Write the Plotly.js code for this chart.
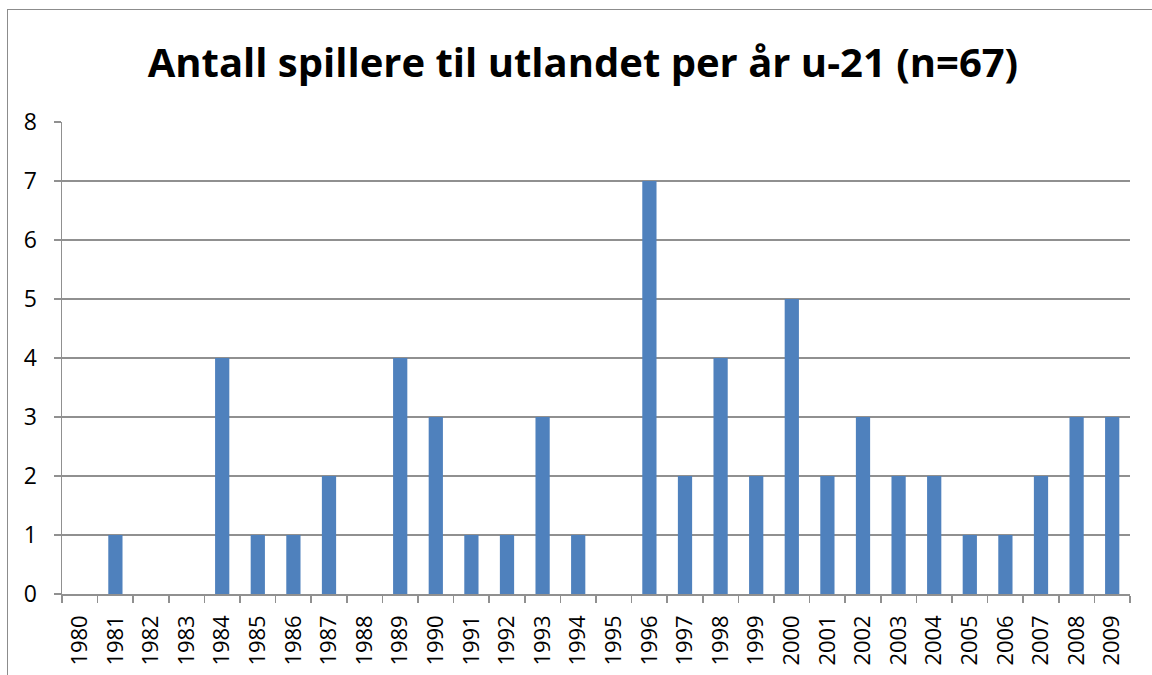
<!DOCTYPE html>
<html>
<head>
<meta charset="utf-8">
<script src="https://cdn.plot.ly/plotly-3.0.1.min.js"></script>
<style>
  html, body { margin: 0; padding: 0; background: #fff; }
  #wrap { position: relative; width: 1152px; height: 675px; overflow: hidden; }
  #frame { position: absolute; left: 7px; top: 9px; width: 1200px; height: 700px;
           border-left: 1px solid #8c8c8c; border-top: 1px solid #8c8c8c; pointer-events: none; }
  #chart { position: absolute; left: 0; top: 0; width: 1152px; height: 675px; }
</style>
</head>
<body>
<div id="wrap">
  <div id="chart"></div>
  <div id="frame"></div>
</div>
<script>
const years = ["1980","1981","1982","1983","1984","1985","1986","1987","1988","1989",
               "1990","1991","1992","1993","1994","1995","1996","1997","1998","1999",
               "2000","2001","2002","2003","2004","2005","2006","2007","2008","2009"];
const players = [0,1,0,0,4,1,1,2,0,4,
                 3,1,1,3,1,0,7,2,4,2,
                 5,2,3,2,2,1,1,2,3,3];
const titleText = "Antall spillere til utlandet per år u-21 (n=67)";
const yTicks = [0,1,2,3,4,5,6,7,8];

const font = "Open Sans, Liberation Sans, sans-serif";

Plotly.newPlot("chart", [{
  type: "bar",
  x: years,
  y: players,
  marker: { color: "#4F81BD" },
  hoverinfo: "x+y"
}], {
  width: 1152, height: 675,
  margin: { l: 62, r: 22, t: 122, b: 81 },
  paper_bgcolor: "#ffffff",
  plot_bgcolor: "#ffffff",
  bargap: 0.6,
  showlegend: false,
  title: {
    text: "<b>" + titleText + "</b>",
    font: { family: font, size: 40, color: "#000" },
    x: 0.506, xanchor: "center", xref: "container",
    y: 0.906, yanchor: "middle", yref: "container"
  },
  xaxis: {
    type: "category",
    tickangle: -90,
    tickson: "boundaries",
    ticks: "outside",
    ticklen: 7,
    tickcolor: "#909090",
    tickwidth: 1.5,
    showline: true,
    linecolor: "#909090",
    linewidth: 1.5,
    showgrid: false,
    tickfont: { family: font, size: 22, color: "#000" },
    ticklabelstandoff: 11,
    fixedrange: true
  },
  yaxis: {
    range: [0, 8],
    tickvals: yTicks,
    ticks: "outside",
    ticklen: 7,
    tickcolor: "#909090",
    tickwidth: 1.5,
    showline: true,
    linecolor: "#909090",
    linewidth: 1.5,
    showgrid: true,
    gridcolor: "#909090",
    gridwidth: 1.5,
    zeroline: false,
    tickfont: { family: font, size: 23, color: "#000" },
    ticklabelstandoff: 12,
    fixedrange: true
  }
}, { displayModeBar: false, staticPlot: true });
</script>
</body>
</html>
